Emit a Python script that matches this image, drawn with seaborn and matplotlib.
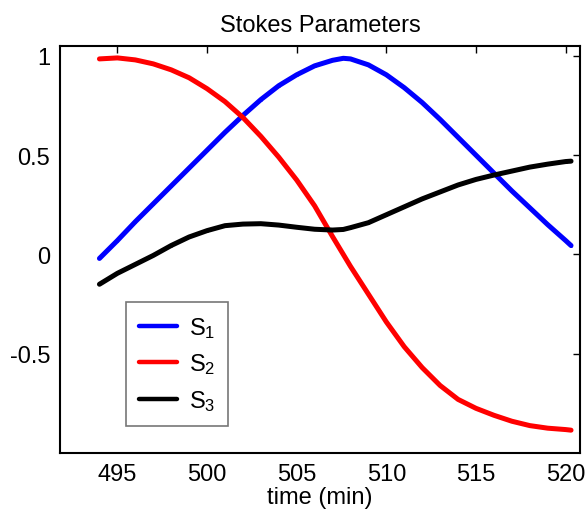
import numpy as np
import pandas as pd
import seaborn as sns
import matplotlib
matplotlib.use("Agg")
import matplotlib.pyplot as plt

# Sample times (minutes) and Stokes parameters read at each time
time_min = [494, 495, 496, 497, 498, 499, 500, 501, 502, 503, 504, 505, 506, 507, 507.6,
            508, 509, 510, 511, 512, 513, 514, 515, 516, 517, 518, 519, 520, 520.3]
s1 = [-0.02, 0.07, 0.165, 0.255, 0.345, 0.435, 0.525, 0.615, 0.70, 0.78, 0.85, 0.905, 0.95, 0.978, 0.988,
      0.985, 0.955, 0.905, 0.84, 0.765, 0.68, 0.59, 0.50, 0.41, 0.32, 0.235, 0.15, 0.07, 0.045]
s2 = [0.985, 0.99, 0.98, 0.96, 0.93, 0.89, 0.835, 0.77, 0.69, 0.595, 0.49, 0.375, 0.245, 0.09, 0.0,
      -0.06, -0.20, -0.34, -0.465, -0.57, -0.66, -0.73, -0.775, -0.81, -0.84, -0.862, -0.875, -0.882, -0.885]
s3 = [-0.15, -0.095, -0.05, -0.005, 0.045, 0.088, 0.12, 0.145, 0.153, 0.155, 0.148, 0.137, 0.127, 0.123, 0.126,
      0.135, 0.16, 0.20, 0.24, 0.28, 0.315, 0.35, 0.378, 0.40, 0.42, 0.44, 0.455, 0.468, 0.47]

series_labels = ["S$_1$", "S$_2$", "S$_3$"]
series_colors = ["#0000ff", "#ff0000", "#000000"]
x_ticks = [495, 500, 505, 510, 515, 520]
y_ticks = [-0.5, 0, 0.5, 1]
y_tick_labels = ["-0.5", "0", "0.5", "1"]

df = pd.DataFrame({
    "time": time_min * 3,
    "value": s1 + s2 + s3,
    "param": [series_labels[0]] * len(time_min)
             + [series_labels[1]] * len(time_min)
             + [series_labels[2]] * len(time_min),
})

sns.set_theme(style="white")
plt.rcParams["font.family"] = ["Liberation Sans", "DejaVu Sans"]
plt.rcParams["mathtext.fontset"] = "custom"
plt.rcParams["mathtext.rm"] = "Liberation Sans"
plt.rcParams["mathtext.it"] = "Liberation Sans"
plt.rcParams["text.color"] = "black"
plt.rcParams["axes.labelcolor"] = "black"

fig = plt.figure(figsize=(5.87, 5.10), dpi=100)
ax = fig.add_axes([60 / 587, 56 / 510, 520 / 587, 407 / 510])

sns.lineplot(data=df, x="time", y="value", hue="param",
             palette=dict(zip(series_labels, series_colors)),
             linewidth=3.6, marker=".", markersize=4, markeredgewidth=0,
             ax=ax, legend=True, sort=False)

ax.set_xlim(491.8, 520.8)
ax.set_ylim(-1.0, 1.05)
ax.set_xticks(x_ticks)
ax.set_yticks(y_ticks)
ax.set_yticklabels(y_tick_labels)
ax.tick_params(direction="in", length=5, width=1, labelsize=17, colors="black",
               labelcolor="black", top=True, right=True, pad=7)
for sp in ax.spines.values():
    sp.set_visible(True)
    sp.set_color("black")
    sp.set_linewidth(1.5)

ax.set_title("Stokes Parameters", fontsize=17, pad=11, color="black")
ax.set_xlabel("time (min)", fontsize=17, labelpad=1, color="black")
ax.set_ylabel("")

leg = ax.legend(loc="lower left", bbox_to_anchor=(0.127, 0.066), borderaxespad=0,
                fontsize=17, frameon=True, fancybox=False, handlelength=1.6,
                labelspacing=0.5, borderpad=0.55, handletextpad=0.5)
leg.get_frame().set_edgecolor("#555555")
leg.get_frame().set_linewidth(1.2)
for line in leg.get_lines():
    line.set_linewidth(3.2)

fig.savefig("out.png", dpi=100, facecolor="white")
